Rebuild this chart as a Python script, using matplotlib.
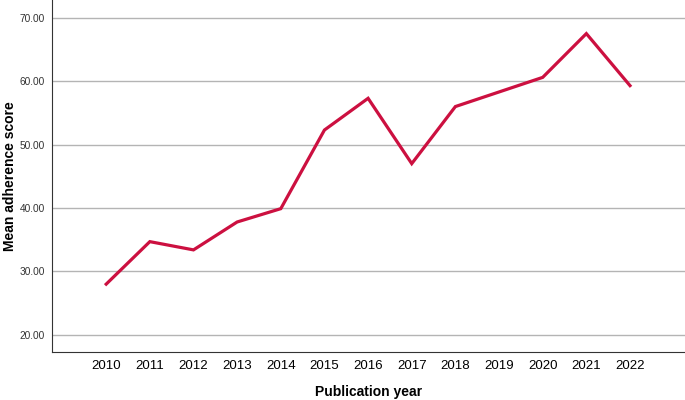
import matplotlib
matplotlib.use("Agg")
import matplotlib.pyplot as plt

years = [2010, 2011, 2012, 2013, 2014, 2015, 2016, 2017, 2018, 2019, 2020, 2021, 2022]
scores = [28.0, 34.7, 33.4, 37.8, 39.9, 52.3, 57.3, 47.0, 56.0, 58.3, 60.6, 67.5, 59.3]
yticks = [20, 30, 40, 50, 60, 70]


def main():
    plt.rcParams['font.family'] = ['Liberation Sans', 'DejaVu Sans']
    fig = plt.figure(figsize=(6.85, 4.0), dpi=100)
    ax = fig.add_axes([0.076, 0.12, 0.924, 0.88])

    for y in yticks:
        ax.axhline(y, color='#b4b4b4', linewidth=1.0, zorder=1)
    ax.plot(years, scores, color='#cc1040', linewidth=2.3, zorder=3,
            solid_joinstyle='miter')

    ax.set_xlim(2008.76, 2023.26)
    ax.set_ylim(17.3, 72.8)
    ax.set_xticks(years)
    ax.set_xticklabels([str(y) for y in years], fontsize=9.5)
    ax.set_yticks(yticks)
    ax.set_yticklabels(['%.2f' % y for y in yticks], fontsize=7.3, color='#333333')
    ax.tick_params(length=0)
    ax.tick_params(axis='x', pad=6)
    ax.tick_params(axis='y', pad=5)

    ax.spines['right'].set_color('none')
    ax.spines['top'].set_color('none')
    ax.spines['left'].set_color('#333333')
    ax.spines['bottom'].set_color('#333333')

    ax.set_xlabel('Publication year', fontsize=10, fontweight='bold', va='center')
    ax.set_ylabel('Mean adherence score', fontsize=10, fontweight='bold', va='center')
    ax.xaxis.set_label_coords(0.5, -0.114)
    ax.yaxis.set_label_coords(-0.066, 0.5)

    fig.savefig('out.png', dpi=100)


if __name__ == "__main__":
    main()
